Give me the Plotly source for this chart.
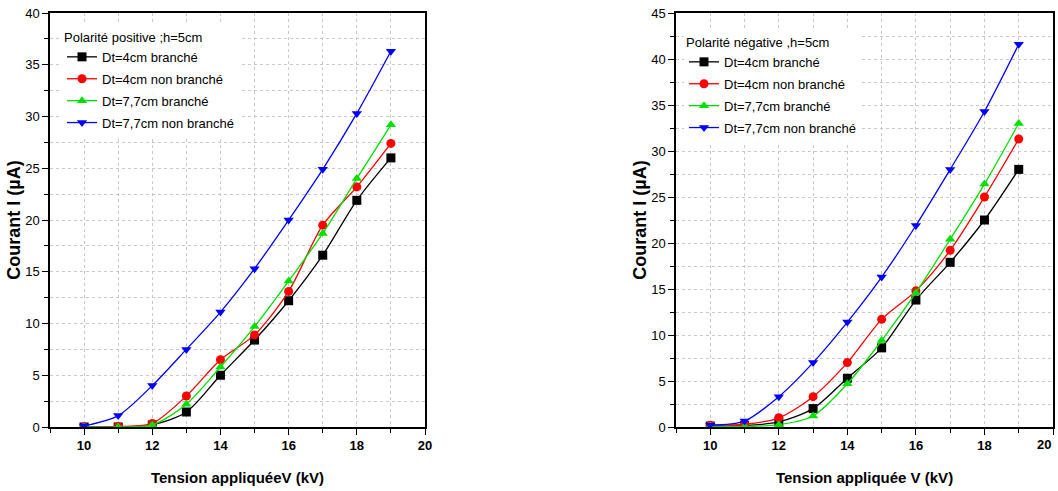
import plotly.graph_objects as go

voltage = [10, 11, 12, 13, 14, 15, 16, 17, 18, 19]

# Polarité positive, h=5cm
pos_dt4_br = [0.0, 0.0, 0.2, 1.45, 5.0, 8.4, 12.2, 16.6, 21.9, 26.0]
pos_dt4_nbr = [0.0, 0.05, 0.35, 3.0, 6.5, 8.9, 13.1, 19.5, 23.2, 27.4]
pos_dt77_br = [0.0, 0.0, 0.2, 2.2, 5.8, 9.7, 14.1, 18.7, 24.0, 29.2]
pos_dt77_nbr = [0.1, 1.1, 4.0, 7.5, 11.1, 15.3, 20.0, 24.9, 30.3, 36.3]

# Polarité négative, h=5cm
neg_dt4_br = [0.1, 0.15, 0.55, 2.0, 5.3, 8.6, 13.8, 17.9, 22.5, 28.0]
neg_dt4_nbr = [0.2, 0.3, 1.0, 3.3, 7.0, 11.7, 14.8, 19.2, 25.0, 31.3]
neg_dt77_br = [0.1, 0.05, 0.25, 1.2, 4.7, 9.4, 14.6, 20.4, 26.4, 33.0]
neg_dt77_nbr = [0.2, 0.65, 3.3, 7.0, 11.4, 16.3, 21.9, 28.0, 34.3, 41.6]

names = ["Dt=4cm branché", "Dt=4cm non branché", "Dt=7,7cm branché", "Dt=7,7cm non branché"]
colors = ["#000000", "#ff0000", "#00e000", "#0000ff"]
symbols = ["square", "circle", "triangle-up", "triangle-down"]
x_range = [9, 20]

FONT = "Liberation Sans Narrow, Liberation Sans, Arial, sans-serif"
W, H = 1058, 491


def px(x):
    return x / W


def py(y):
    return 1 - y / H


fig = go.Figure()


def add(series, xa, ya, leg, tag):
    for i, (s, n, c, m) in enumerate(zip(series, names, colors, symbols)):
        fig.add_trace(go.Scatter(
            x=voltage, y=s, name=n, mode="lines+markers",
            line=dict(color=c, width=1.3, shape="spline", smoothing=0.8),
            marker=dict(color=c, symbol=m, size=9),
            xaxis=xa, yaxis=ya, legend=leg, legendgroup=f"{tag}{i}",
        ))


add([pos_dt4_br, pos_dt4_nbr, pos_dt77_br, pos_dt77_nbr], "x", "y", "legend", "p")
add([neg_dt4_br, neg_dt4_nbr, neg_dt77_br, neg_dt77_nbr], "x2", "y2", "legend2", "n")

ydom = [py(427), py(13)]


def xaxis(dom, title, anchor):
    return dict(
        domain=dom, range=x_range, dtick=2, tick0=0, anchor=anchor, automargin=False,
        ticks="outside", ticklen=6, tickwidth=1.3, tickcolor="black",
        minor=dict(dtick=1, ticks="outside", ticklen=4, tickcolor="black",
                   showgrid=True, gridcolor="#c8c8c8", griddash="dot", gridwidth=1),
        showgrid=True, gridcolor="#c8c8c8", griddash="dot", gridwidth=1,
        showline=True, linecolor="black", linewidth=1.5, mirror=True,
        zeroline=False,
        tickfont=dict(family=FONT, size=13, color="black", weight="bold"),
        title=dict(text=title, font=dict(family=FONT, size=15, color="black", weight="bold"), standoff=20),
    )


def yaxis(rng, anchor):
    return dict(
        domain=ydom, range=rng, dtick=5, tick0=0, anchor=anchor, automargin=False,
        ticks="outside", ticklen=6, tickwidth=1.3, tickcolor="black",
        minor=dict(dtick=2.5, ticks="outside", ticklen=4, tickcolor="black",
                   showgrid=True, gridcolor="#c8c8c8", griddash="dot", gridwidth=1),
        showgrid=True, gridcolor="#c8c8c8", griddash="dot", gridwidth=1,
        showline=True, linecolor="black", linewidth=1.5, mirror=True,
        zeroline=False,
        tickfont=dict(family=FONT, size=13, color="black"),
        title=dict(text="Courant I (µA)", font=dict(family="Liberation Sans, Arial", size=18, color="black", weight="bold"), standoff=0),
    )


legend_common = dict(
    bgcolor="white", borderwidth=0,
    font=dict(family="Liberation Sans, Arial", size=13, color="black"),
    xanchor="left", yanchor="top", itemwidth=30, tracegroupgap=2,
)

fig.update_layout(
    width=W, height=H,
    margin=dict(l=0, r=0, t=0, b=0),
    paper_bgcolor="white", plot_bgcolor="white",
    xaxis=xaxis([px(50), px(425)], "Tension appliquéeV (kV)", "y"),
    yaxis=yaxis([0, 40], "x"),
    xaxis2=xaxis([px(676), px(1053)], "Tension appliquée V (kV)", "y2"),
    yaxis2=yaxis([0, 45], "x2"),
    legend=dict(legend_common, x=px(62), y=py(25),
                title=dict(text="Polarité positive ;h=5cm", font=dict(family="Liberation Sans, Arial", size=13))),
    legend2=dict(legend_common, x=px(684), y=py(30),
                 title=dict(text="Polarité négative ,h=5cm", font=dict(family="Liberation Sans, Arial", size=13))),
    showlegend=True,
)

# last tick label of right x-axis sits at the page edge (culled by plotly); draw it as text
fig.add_annotation(
    x=x_range[1], xref="x2", y=0, yref="y2", yshift=-17,
    text="20", showarrow=False, xanchor="right",
    font=dict(family=FONT, size=13, color="black", weight="bold"),
)

fig.write_html(
    "out.html",
    config={"displayModeBar": False},
    post_script="document.body.style.margin='0';document.body.style.overflow='hidden';",
)
